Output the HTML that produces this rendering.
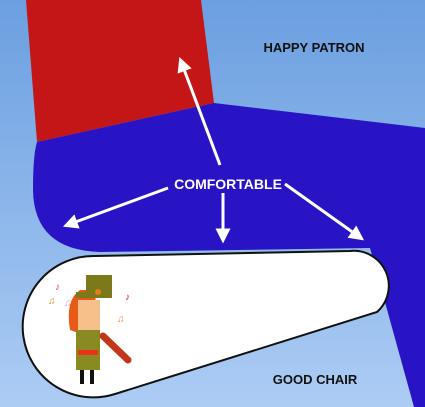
<!DOCTYPE html>
<html><head><meta charset="utf-8"><style>
html,body{margin:0;padding:0;width:425px;height:407px;overflow:hidden}
svg{display:block}
text{font-family:"Liberation Sans",sans-serif;font-weight:bold}
</style></head><body>
<svg width="425" height="407" viewBox="0 0 425 407">
<defs>
<linearGradient id="bg" x1="0" y1="0" x2="0" y2="1">
<stop offset="0" stop-color="#6b9fe0"/><stop offset="1" stop-color="#acccf4"/>
</linearGradient>
<marker id="ah" markerWidth="5" markerHeight="5" refX="2.5" refY="2.5" orient="auto" markerUnits="strokeWidth">
<path d="M0,0 L5,2.5 L0,5 Z" fill="#fff"/>
</marker>
</defs>
<rect width="425" height="407" fill="url(#bg)"/>
<path d="M26,0 L201,0 L214,103 L37,142 Z" fill="#c41616"/>
<path d="M37,142 L214,103 L425,128 L425,407 L414,407 L370,248 L100,252 Q34,250 33,190 Q33,155 37,142 Z" fill="#2814c4"/>
<path d="M95,256 L350,251 A35,35 0 0 1 377,312 L115,394 A70.7,70.7 0 1 1 95,256 Z" fill="#fff" stroke="#111" stroke-width="2"/>
<g>
<path d="M70,330 Q65,300 80,290 L95,290 L98,340 Z" fill="#e85a18"/>
<rect x="78" y="300" width="22" height="40" fill="#f6c08a"/>
<rect x="76" y="330" width="24" height="40" fill="#8a8a22"/>
<rect x="78" y="350" width="20" height="5" fill="#e8321a"/>
<rect x="80" y="370" width="4" height="14" fill="#111"/><rect x="90" y="370" width="4" height="14" fill="#111"/>
<rect x="86" y="275" width="26" height="20" fill="#7a7a1a"/>
<rect x="76" y="292" width="36" height="6" fill="#7a7a1a"/>
<circle cx="98" cy="292" r="3" fill="#e87a1a"/>
<path d="M103,336 L128,360" stroke="#c2361a" stroke-width="7" stroke-linecap="round"/>
<text x="55" y="290" font-size="10" fill="#e84a2a">♪</text>
<text x="48" y="304" font-size="10" fill="#f08a2a">♫</text>
<text x="125" y="300" font-size="10" fill="#d82020">♪</text>
<text x="117" y="322" font-size="10" fill="#f08a5a">♫</text>
<text x="64" y="306" font-size="10" fill="#f0a0e0">♫</text>
</g>
<g stroke="#fff" stroke-width="3" fill="none">
<line x1="220" y1="165" x2="182" y2="64" marker-end="url(#ah)"/>
<line x1="168" y1="188" x2="70" y2="224" marker-end="url(#ah)"/>
<line x1="223" y1="193" x2="223" y2="236" marker-end="url(#ah)"/>
<line x1="285" y1="184" x2="358" y2="236" marker-end="url(#ah)"/>
</g>
<text x="228" y="189" font-size="14" fill="#fff" text-anchor="middle">COMFORTABLE</text>
<text x="314" y="52" font-size="13" fill="#111" text-anchor="middle">HAPPY PATRON</text>
<text x="315" y="384" font-size="13" fill="#111" text-anchor="middle">GOOD CHAIR</text>
</svg>
</body></html>
